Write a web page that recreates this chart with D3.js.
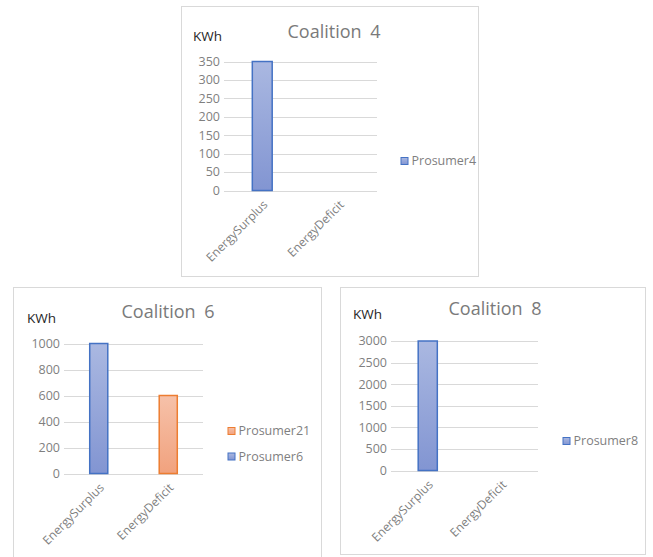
<!DOCTYPE html>
<html>
<head>
<meta charset="utf-8">
<script src="https://cdn.jsdelivr.net/npm/d3@7"></script>
<style>
  body { margin: 0; background: #fff; }
  text { font-family: "Open Sans", "Noto Sans", sans-serif; }
</style>
</head>
<body>
<div id="chart"></div>
<script>
// categories shared by all three coalitions
const categories = ["EnergySurplus", "EnergyDeficit"];

// series values (KWh) per coalition
const coalition4Prosumer4 = [350, 0];
const coalition6Prosumer6 = [1000, 0];
const coalition6Prosumer21 = [0, 600];
const coalition8Prosumer8 = [3000, 0];

// y tick labels
const ticks4 = [0, 50, 100, 150, 200, 250, 300, 350];
const ticks6 = [0, 200, 400, 600, 800, 1000];
const ticks8 = [0, 500, 1000, 1500, 2000, 2500, 3000];

const colors = {
    blue: { stroke: "#4472c4", top: "#aab8e1", bottom: "#8295d2" },
    orange: { stroke: "#ed7d31", top: "#f6c1a9", bottom: "#f1a27e" }
};

const svg = d3.select("#chart")
    .append("svg")
    .attr("width", 653)
    .attr("height", 557);

// gradients for bar fills
const defs = svg.append("defs");
Object.entries(colors).forEach(([name, c]) => {
    const g = defs.append("linearGradient")
        .attr("id", "grad-" + name)
        .attr("x1", 0).attr("y1", 0).attr("x2", 0).attr("y2", 1);
    g.append("stop").attr("offset", "0%").attr("stop-color", c.top);
    g.append("stop").attr("offset", "100%").attr("stop-color", c.bottom);
});

const panels = [
    {
        title: "Coalition 4",
        box: { x: 181.5, y: 6.5, w: 297, h: 270 },
        plot: { x0: 224, x1: 377, y0: 61.5, y1: 190.5 },
        titleX: 334, titleY: 38, unitX: 193, unitY: 41,
        legendX: 401, legendY: 161,
        ticks: ticks4,
        series: [{ name: "Prosumer4", values: coalition4Prosumer4, color: "blue" }]
    },
    {
        title: "Coalition 6",
        box: { x: 13.5, y: 287.5, w: 308, h: 290 },
        plot: { x0: 64, x1: 203, y0: 343.5, y1: 473.5 },
        titleX: 168, titleY: 318, unitX: 27, unitY: 323,
        legendX: 228, legendY: 431,
        ticks: ticks6,
        series: [
            { name: "Prosumer6", values: coalition6Prosumer6, color: "blue" },
            { name: "Prosumer21", values: coalition6Prosumer21, color: "orange" }
        ]
    },
    {
        title: "Coalition 8",
        box: { x: 340.5, y: 287.5, w: 305, h: 267 },
        plot: { x0: 391, x1: 538, y0: 341, y1: 470.5 },
        titleX: 495, titleY: 315, unitX: 353, unitY: 319,
        legendX: 563, legendY: 441,
        ticks: ticks8,
        series: [{ name: "Prosumer8", values: coalition8Prosumer8, color: "blue" }]
    }
];

panels.forEach(drawPanel);

function drawPanel(p) {
    const g = svg.append("g");

    // chart border
    g.append("rect")
        .attr("x", p.box.x).attr("y", p.box.y)
        .attr("width", p.box.w).attr("height", p.box.h)
        .attr("fill", "#fff")
        .attr("stroke", "#d9d9d9")
        .attr("stroke-width", 1);

    const x = d3.scaleBand()
        .domain(categories)
        .range([p.plot.x0, p.plot.x1]);

    const y = d3.scaleLinear()
        .domain([0, d3.max(p.ticks)])
        .range([p.plot.y1, p.plot.y0]);

    // gridlines
    g.selectAll("line.grid")
        .data(p.ticks)
        .enter()
        .append("line")
        .attr("class", "grid")
        .attr("x1", p.plot.x0).attr("x2", p.plot.x1)
        .attr("y1", d => Math.round(y(d)) + 0.5)
        .attr("y2", d => Math.round(y(d)) + 0.5)
        .attr("stroke", "#d9d9d9")
        .attr("stroke-width", 1);

    // y tick labels
    g.selectAll("text.ytick")
        .data(p.ticks)
        .enter()
        .append("text")
        .attr("class", "ytick")
        .attr("x", p.plot.x0 - 4)
        .attr("y", d => y(d))
        .attr("dy", "0.35em")
        .attr("text-anchor", "end")
        .attr("font-size", 12.5)
        .attr("fill", "#7f7f7f")
        .text(d => d);

    // stacked bars
    const table = categories.map((c, i) => {
        const row = { category: c };
        p.series.forEach(s => { row[s.name] = s.values[i]; });
        return row;
    });
    const stacked = d3.stack().keys(p.series.map(s => s.name))(table);
    const barW = x.bandwidth() * 0.26;

    stacked.forEach((layer, li) => {
        const s = p.series[li];
        g.selectAll(null)
            .data(layer.filter(d => d[1] - d[0] > 0))
            .enter()
            .append("rect")
            .attr("x", d => x(d.data.category) + (x.bandwidth() - barW) / 2)
            .attr("y", d => y(d[1]))
            .attr("width", barW)
            .attr("height", d => y(d[0]) - y(d[1]))
            .attr("fill", `url(#grad-${s.color})`)
            .attr("stroke", colors[s.color].stroke)
            .attr("stroke-width", 1.5);
    });

    // x labels, rotated
    g.selectAll("text.xtick")
        .data(categories)
        .enter()
        .append("text")
        .attr("class", "xtick")
        .attr("transform", d => `translate(${x(d) + x.bandwidth() / 2 + 3},${p.plot.y1 + 12}) rotate(-45)`)
        .attr("text-anchor", "end")
        .attr("dy", "0.35em")
        .attr("font-size", 12)
        .attr("fill", "#7f7f7f")
        .text(d => d);

    // title and unit label
    g.append("text")
        .attr("x", p.titleX).attr("y", p.titleY)
        .attr("text-anchor", "middle")
        .attr("font-size", 18)
        .attr("word-spacing", 4)
        .attr("fill", "#7a7a7a")
        .text(p.title);

    g.append("text")
        .attr("x", p.unitX).attr("y", p.unitY)
        .attr("font-size", 13.5)
        .attr("fill", "#262626")
        .text("KWh");

    // legend, last series on top like Excel
    const legendItems = p.series.slice().reverse();
    const leg = g.selectAll("g.legend")
        .data(legendItems)
        .enter()
        .append("g")
        .attr("class", "legend")
        .attr("transform", (d, i) => `translate(${p.legendX},${p.legendY + i * 25.5})`);

    leg.append("rect")
        .attr("x", 0).attr("y", -3.5)
        .attr("width", 7).attr("height", 7)
        .attr("fill", d => `url(#grad-${d.color})`)
        .attr("stroke", d => colors[d.color].stroke)
        .attr("stroke-width", 1);

    leg.append("text")
        .attr("x", 10.5).attr("y", 0)
        .attr("dy", "0.35em")
        .attr("font-size", 12.5)
        .attr("fill", "#7f7f7f")
        .text(d => d.name);
}
</script>
</body>
</html>
